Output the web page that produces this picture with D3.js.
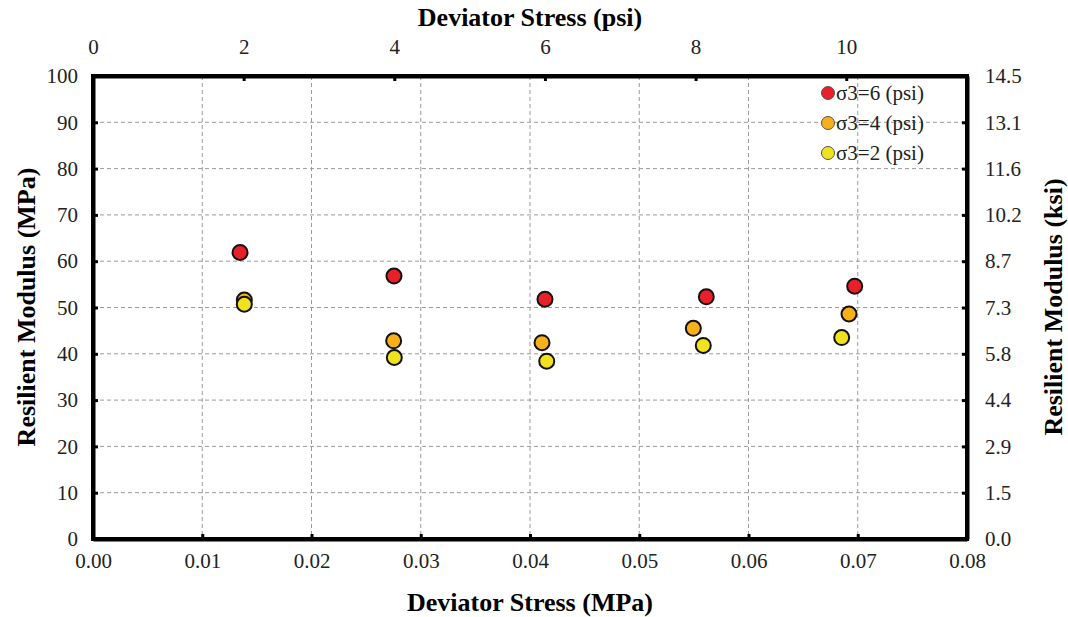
<!DOCTYPE html>
<html><head><meta charset="utf-8">
<script src="https://cdn.jsdelivr.net/npm/d3@7"></script>
<style>body{margin:0;background:#fff}</style>
</head><body>
<svg id="c" width="1068" height="617"></svg>
<script>
const seriesNames = ["σ3=6 (psi)", "σ3=4 (psi)", "σ3=2 (psi)"];
const seriesColors = ["#e8202a", "#f8b01a", "#f1e21e"];
const x6 = [0.01346, 0.02755, 0.04137, 0.05614, 0.06972];
const y6 = [61.9, 56.8, 51.8, 52.3, 54.6];
const x4 = [0.01385, 0.02752, 0.0411, 0.05495, 0.0692];
const y4 = [51.6, 42.8, 42.4, 45.5, 48.6];
const x2 = [0.01385, 0.02758, 0.04153, 0.05586, 0.06853];
const y2 = [50.7, 39.2, 38.4, 41.8, 43.5];
const xTicks = [0, 0.01, 0.02, 0.03, 0.04, 0.05, 0.06, 0.07, 0.08];
const psiTicks = [0, 2, 4, 6, 8, 10];
const yTicks = [0, 10, 20, 30, 40, 50, 60, 70, 80, 90, 100];
const ksiLabels = ["0.0", "1.5", "2.9", "4.4", "5.8", "7.3", "8.7", "10.2", "11.6", "13.1", "14.5"];
const MPA_PER_PSI = 1 / 145.038;

const L = 93, R = 967, T = 76, B = 539;
const svg = d3.select("#c");
const x = d3.scaleLinear().domain([0, 0.08]).range([L, R]);
const y = d3.scaleLinear().domain([0, 100]).range([B, T]);
const font = "'Liberation Serif','Times New Roman',serif";
const FS = 21;

// grid
const g = svg.append("g");
g.selectAll("line.v").data(xTicks.slice(1, -1)).join("line")
  .attr("x1", d => x(d)).attr("x2", d => x(d)).attr("y1", T).attr("y2", B)
  .attr("stroke", "#9a9a9a").attr("stroke-width", 1).attr("stroke-dasharray", "4,3");
g.selectAll("line.h").data(yTicks.slice(1, -1)).join("line")
  .attr("x1", L).attr("x2", R).attr("y1", d => y(d)).attr("y2", d => y(d))
  .attr("stroke", "#9a9a9a").attr("stroke-width", 1).attr("stroke-dasharray", "4,3");

// axes
const xb = d3.axisBottom(x).tickValues(xTicks).tickFormat(d3.format(".2f")).tickSizeInner(-5).tickSizeOuter(0).tickPadding(14);
const xt = d3.axisTop(x).tickValues(psiTicks.map(p => p * MPA_PER_PSI)).tickFormat((d, i) => psiTicks[i]).tickSizeInner(-5).tickSizeOuter(0).tickPadding(22);
const yl = d3.axisLeft(y).tickValues(yTicks).tickFormat(d3.format("d")).tickSizeInner(-5).tickSizeOuter(0).tickPadding(15);
const yr = d3.axisRight(y).tickValues(yTicks).tickFormat((d, i) => ksiLabels[i]).tickSizeInner(-5).tickSizeOuter(0).tickPadding(18);

function style(sel) {
  sel.select(".domain").attr("stroke", "#000").attr("stroke-width", 4);
  sel.selectAll(".tick line").attr("stroke", "#000").attr("stroke-width", 3);
  sel.selectAll(".tick text").attr("font-family", font).attr("font-size", FS).attr("fill", "#222");
}
svg.append("g").attr("transform", `translate(0,${B})`).call(xb).call(style);
svg.append("g").attr("transform", `translate(0,${T})`).call(xt).call(style);
svg.append("g").attr("transform", `translate(${L},0)`).call(yl).call(style);
svg.append("g").attr("transform", `translate(${R},0)`).call(yr).call(style);
svg.append("rect").attr("x", L).attr("y", T).attr("width", R - L).attr("height", B - T)
  .attr("fill", "none").attr("stroke", "#000").attr("stroke-width", 4);

// points
const series = [[x6, y6], [x4, y4], [x2, y2]];
[0, 1, 2].forEach(si => {
  const [xs, ys] = series[si];
  svg.append("g").selectAll("circle").data(xs.map((v, i) => [v, ys[i]])).join("circle")
    .attr("cx", d => x(d[0])).attr("cy", d => y(d[1])).attr("r", 7.5)
    .attr("fill", seriesColors[si]).attr("stroke", "#111").attr("stroke-width", 2);
});

// legend
const lg = svg.append("g").attr("transform", "translate(828,93)");
seriesNames.forEach((n, i) => {
  lg.append("circle").attr("cx", 0).attr("cy", i * 30).attr("r", 6.5).attr("fill", seriesColors[i]).attr("stroke", "#555").attr("stroke-width", 1);
  lg.append("text").attr("x", 8).attr("y", i * 30 + 7).attr("font-family", font).attr("font-size", FS).attr("fill", "#222").text(n);
});

// titles
const TS = 26;
svg.append("text").attr("x", 530).attr("y", 26).attr("text-anchor", "middle").attr("font-family", font).attr("font-weight", "bold").attr("font-size", TS).text("Deviator Stress (psi)");
svg.append("text").attr("x", 530).attr("y", 611).attr("text-anchor", "middle").attr("font-family", font).attr("font-weight", "bold").attr("font-size", TS).text("Deviator Stress (MPa)");
svg.append("text").attr("transform", "translate(35,307) rotate(-90)").attr("text-anchor", "middle").attr("font-family", font).attr("font-weight", "bold").attr("font-size", TS).text("Resilient Modulus (MPa)");
svg.append("text").attr("transform", "translate(1062,307) rotate(-90)").attr("text-anchor", "middle").attr("font-family", font).attr("font-weight", "bold").attr("font-size", TS).text("Resilient Modulus (ksi)");
</script>
</body></html>
